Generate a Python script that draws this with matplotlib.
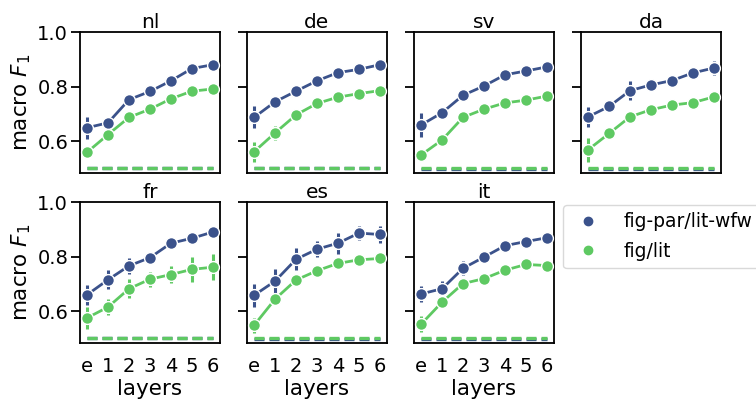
import matplotlib
matplotlib.use("Agg")
import matplotlib.pyplot as plt
from matplotlib.lines import Line2D

plt.rcParams["font.family"] = ["DejaVu Sans"]

layers = ["e", "1", "2", "3", "4", "5", "6"]
languages = ["nl", "de", "sv", "da", "fr", "es", "it"]
series_names = ["fig-par/lit-wfw", "fig/lit"]

# mean macro F1 per layer
nl_wfw = [0.649, 0.667, 0.752, 0.782, 0.821, 0.866, 0.880]
nl_lit = [0.559, 0.624, 0.687, 0.717, 0.755, 0.783, 0.791]
de_wfw = [0.687, 0.744, 0.783, 0.821, 0.851, 0.863, 0.880]
de_lit = [0.561, 0.630, 0.696, 0.738, 0.761, 0.774, 0.785]
sv_wfw = [0.659, 0.704, 0.768, 0.802, 0.843, 0.857, 0.872]
sv_lit = [0.549, 0.604, 0.687, 0.717, 0.740, 0.750, 0.765]
da_wfw = [0.689, 0.727, 0.785, 0.806, 0.822, 0.850, 0.868]
da_lit = [0.568, 0.628, 0.689, 0.715, 0.732, 0.741, 0.762]
fr_wfw = [0.660, 0.715, 0.766, 0.796, 0.849, 0.867, 0.890]
fr_lit = [0.575, 0.615, 0.682, 0.717, 0.734, 0.753, 0.761]
es_wfw = [0.658, 0.710, 0.790, 0.827, 0.849, 0.886, 0.881]
es_lit = [0.548, 0.644, 0.714, 0.748, 0.775, 0.788, 0.793]
it_wfw = [0.663, 0.682, 0.757, 0.798, 0.840, 0.855, 0.869]
it_lit = [0.552, 0.633, 0.701, 0.719, 0.750, 0.771, 0.767]

# half-width of the error bars
nl_wfw_err = [0.040, 0.015, 0.008, 0.008, 0.006, 0.006, 0.005]
nl_lit_err = [0.020, 0.010, 0.008, 0.006, 0.006, 0.005, 0.005]
de_wfw_err = [0.040, 0.010, 0.015, 0.020, 0.008, 0.006, 0.006]
de_lit_err = [0.037, 0.027, 0.008, 0.008, 0.006, 0.006, 0.005]
sv_wfw_err = [0.043, 0.015, 0.010, 0.008, 0.010, 0.006, 0.006]
sv_lit_err = [0.010, 0.008, 0.008, 0.006, 0.006, 0.006, 0.006]
da_wfw_err = [0.037, 0.010, 0.035, 0.020, 0.020, 0.008, 0.025]
da_lit_err = [0.043, 0.010, 0.010, 0.008, 0.006, 0.006, 0.006]
fr_wfw_err = [0.037, 0.034, 0.029, 0.010, 0.008, 0.008, 0.008]
fr_lit_err = [0.040, 0.028, 0.035, 0.028, 0.030, 0.045, 0.048]
es_wfw_err = [0.042, 0.046, 0.040, 0.029, 0.039, 0.026, 0.030]
es_lit_err = [0.028, 0.008, 0.008, 0.008, 0.006, 0.006, 0.015]
it_wfw_err = [0.028, 0.030, 0.025, 0.008, 0.008, 0.015, 0.008]
it_lit_err = [0.029, 0.015, 0.020, 0.008, 0.008, 0.008, 0.008]

# majority-class baselines
baseline_wfw = [0.500, 0.500, 0.4965, 0.4965, 0.500, 0.4965, 0.4965]
baseline_lit = [0.500, 0.500, 0.500, 0.500, 0.500, 0.500, 0.500]

wfw_means = [nl_wfw, de_wfw, sv_wfw, da_wfw, fr_wfw, es_wfw, it_wfw]
lit_means = [nl_lit, de_lit, sv_lit, da_lit, fr_lit, es_lit, it_lit]
wfw_errs = [nl_wfw_err, de_wfw_err, sv_wfw_err, da_wfw_err, fr_wfw_err, es_wfw_err, it_wfw_err]
lit_errs = [nl_lit_err, de_lit_err, sv_lit_err, da_lit_err, fr_lit_err, es_lit_err, it_lit_err]

colors = ["#3b528b", "#5ec962"]

fig, axes = plt.subplots(2, 4, figsize=(7.56, 4.0), dpi=100, sharey=True)
fig.subplots_adjust(left=0.1058, right=0.9537, top=0.92, bottom=0.1425,
                    wspace=0.193, hspace=0.206)

x = list(range(len(layers)))
for i, lang in enumerate(languages):
    ax = axes.flat[i]
    for means, errs, base, c, z in [
        (wfw_means[i], wfw_errs[i], baseline_wfw[i], colors[0], 3),
        (lit_means[i], lit_errs[i], baseline_lit[i], colors[1], 4),
    ]:
        ax.plot(x, [base] * len(x), color=c, lw=2.4, dashes=(3.0, 1.5), zorder=z - 2)
        ax.vlines(x, [m - e for m, e in zip(means, errs)],
                  [m + e for m, e in zip(means, errs)], color=c, lw=2.2, zorder=z)
        ax.plot(x, means, color=c, lw=2.0, marker="o", ms=8.5,
                mec="white", mew=1.0, zorder=z)
    ax.set_title(lang, fontsize=14.5, pad=3)
    ax.set_xlim(-0.34, 6.34)
    ax.set_ylim(0.483, 1.0)
    ax.set_yticks([0.6, 0.8, 1.0])
    ax.set_xticks(x)
    ax.tick_params(axis="y", length=6.5, width=1.3, labelsize=14, pad=2)
    ax.tick_params(axis="x", length=0, labelsize=14, pad=10)
    for s in ax.spines.values():
        s.set_linewidth(1.3)
        s.set_color("black")
    if i >= 4:
        ax.set_xticklabels(layers)
        ax.set_xlabel("layers", fontsize=15.5, labelpad=2)
    else:
        ax.set_xticklabels([])
    if i % 4 == 0:
        ax.set_ylabel("macro $F_1$", fontsize=15.5, labelpad=3)
        ax.yaxis.set_tick_params(labelleft=True)

axes.flat[7].set_visible(False)

handles = [Line2D([], [], ls="none", marker="o", ms=6, color=c) for c in colors]
fig.legend(handles, series_names, loc="upper left",
           bbox_to_anchor=(563 / 756, 1 - 205 / 400), borderaxespad=0,
           fontsize=13.5, frameon=True, fancybox=True, edgecolor="#d0d0d0",
           handlelength=1.87, handletextpad=0.95, labelspacing=0.55, borderpad=0.4)

fig.savefig("out.png", dpi=100)
